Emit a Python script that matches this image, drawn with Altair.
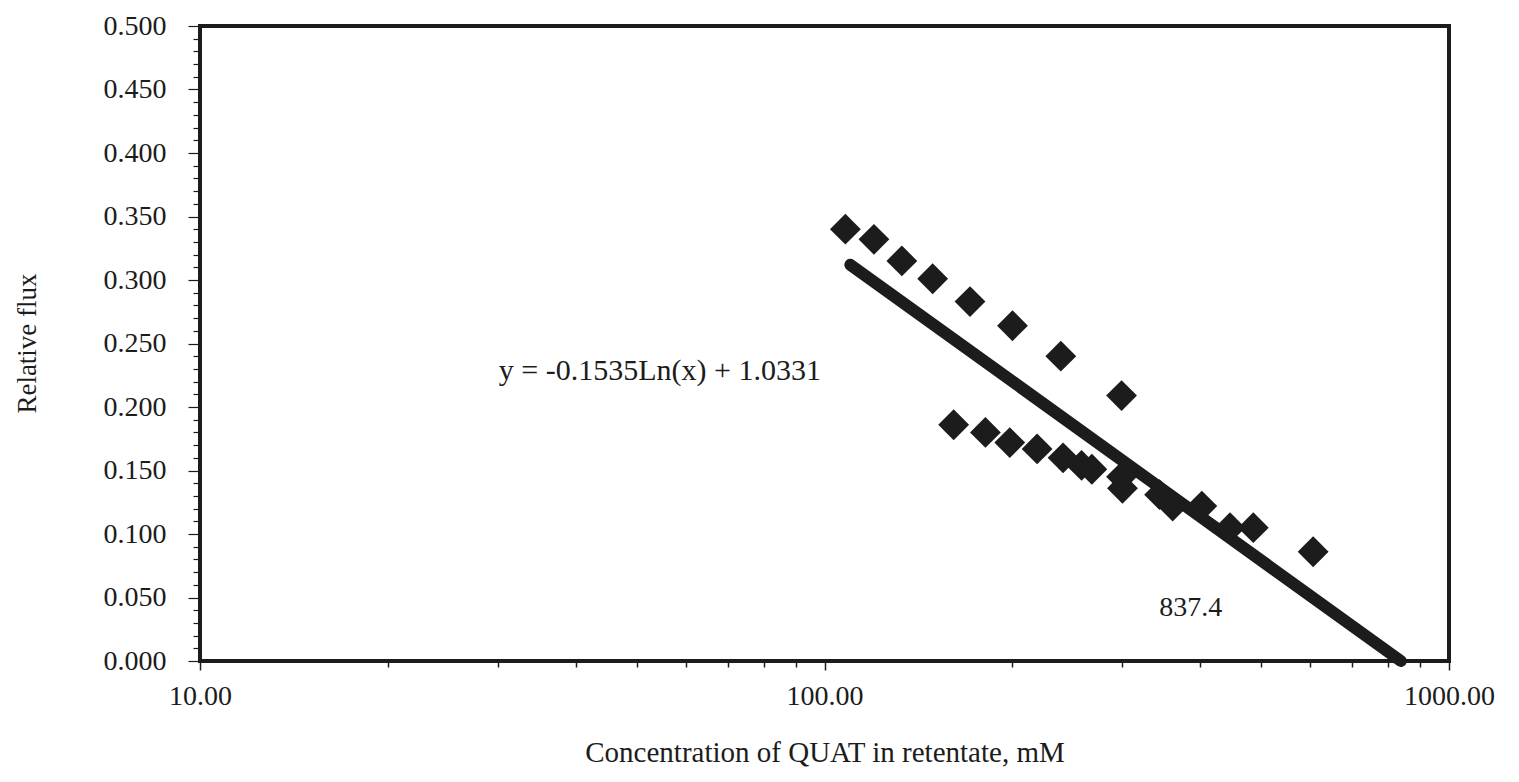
import altair as alt
import pandas as pd

# Upper series (diamonds)
upper_x = [108, 120, 133, 149, 171, 200, 239, 299]
upper_y = [0.340, 0.332, 0.315, 0.301, 0.283, 0.264, 0.240, 0.209]
# Lower series (diamonds)
lower_x = [161, 181, 198, 219, 241, 258, 268, 299, 300, 344, 361, 402, 446, 486, 606]
lower_y = [0.186, 0.180, 0.172, 0.167, 0.160, 0.154, 0.151, 0.145, 0.136, 0.131, 0.122, 0.122, 0.105, 0.105, 0.086]

# Logarithmic trendline end points
trend_x = [110, 837.4]
trend_y = [0.312, 0.0]

eq_text = ["y = -0.1535Ln(x) + 1.0331"]
eq_x = [54.5]
eq_y = [0.228]
ann_text = ["837.4"]
ann_x = [386]
ann_y = [0.042]

y_ticks = [round(i * 0.01, 2) for i in range(51)]
x_ticks = [10, 20, 30, 40, 50, 60, 70, 80, 90, 100, 200, 300, 400, 500, 600, 700, 800, 900, 1000]

pts = pd.DataFrame({"x": upper_x + lower_x, "y": upper_y + lower_y})
trend = pd.DataFrame({"x": trend_x, "y": trend_y})
eq = pd.DataFrame({"x": eq_x, "y": eq_y, "t": eq_text})
ann = pd.DataFrame({"x": ann_x, "y": ann_y, "t": ann_text})

FONT = "Liberation Serif"
INK = "#1c1c1c"

xscale = alt.Scale(type="log", domain=[10, 1000], nice=False)
yscale = alt.Scale(domain=[0, 0.5], nice=False, zero=False)

MAJOR_X = "datum.value == 10 || datum.value == 100 || datum.value == 1000"
MAJOR_Y = "abs(datum.value * 20 - round(datum.value * 20)) < 0.000001"

xaxis = alt.Axis(
    title="Concentration of QUAT in retentate, mM",
    values=x_ticks,
    tickCount=200,
    labelExpr="(" + MAJOR_X + ") ? format(datum.value, '.2f') : ''",
    tickSize={"condition": {"test": MAJOR_X, "value": 9}, "value": 6},
    tickColor=INK,
    tickWidth=1.5,
    domain=False,
    grid=False,
    labelFont=FONT,
    labelFontSize=28,
    labelColor=INK,
    labelPadding=12,
    labelOverlap=False,
    labelFlush=False,
    titleFont=FONT,
    titleFontSize=29,
    titleFontWeight="normal",
    titleColor=INK,
    titleY=91,
    titleBaseline="middle",
)

yaxis = alt.Axis(
    title="Relative flux",
    values=y_ticks,
    tickCount=200,
    labelExpr="(" + MAJOR_Y + ") ? format(datum.value, '.3f') : ''",
    tickSize={"condition": {"test": MAJOR_Y, "value": 12}, "value": 7},
    tickColor=INK,
    tickWidth=1.2,
    domain=False,
    grid=False,
    labelFont=FONT,
    labelFontSize=28,
    labelColor=INK,
    labelPadding=22,
    labelOverlap=False,
    labelBaseline="middle",
    titleFont=FONT,
    titleFontSize=27,
    titleFontWeight="normal",
    titleColor=INK,
    titleX=-173,
    titleY=317,
    titleAngle=270,
    titleAlign="center",
    titleBaseline="middle",
)

points = alt.Chart(pts).mark_point(
    shape="diamond", filled=True, size=950, color=INK, opacity=1
).encode(
    x=alt.X("x:Q", scale=xscale, axis=xaxis),
    y=alt.Y("y:Q", scale=yscale, axis=yaxis),
)

line = alt.Chart(trend).mark_line(
    color=INK, strokeWidth=12, strokeCap="round"
).encode(
    x=alt.X("x:Q", scale=xscale),
    y=alt.Y("y:Q", scale=yscale),
)

eq_mark = alt.Chart(eq).mark_text(
    font=FONT, fontSize=30, color=INK, align="center", baseline="middle"
).encode(
    x=alt.X("x:Q", scale=xscale),
    y=alt.Y("y:Q", scale=yscale),
    text="t:N",
)

ann_mark = alt.Chart(ann).mark_text(
    font=FONT, fontSize=28, color=INK, align="center", baseline="middle"
).encode(
    x=alt.X("x:Q", scale=xscale),
    y=alt.Y("y:Q", scale=yscale),
    text="t:N",
)

chart = alt.layer(line, points, eq_mark, ann_mark).properties(
    width=1249,
    height=635,
    autosize=alt.AutoSizeParams(type="none"),
    padding={"left": 200, "top": 26, "right": 70, "bottom": 121},
    background="white",
).configure_view(
    stroke=INK, strokeWidth=4
)

chart.save("out.html", embed_options={"renderer": "svg", "actions": False})
